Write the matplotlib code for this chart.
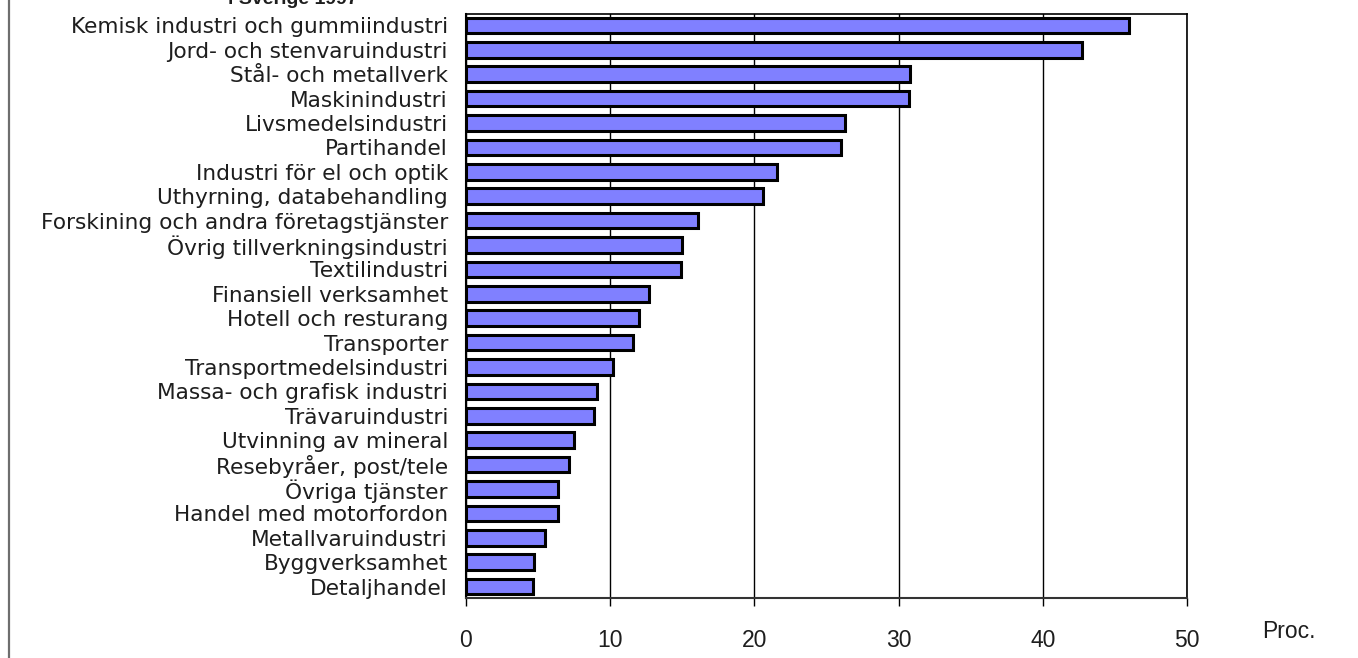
import matplotlib
matplotlib.use('Agg')
import matplotlib.pyplot as plt
from matplotlib.lines import Line2D

# data (top to bottom)
branscher = [
    "Kemisk industri och gummiindustri",
    "Jord- och stenvaruindustri",
    "Stål- och metallverk",
    "Maskinindustri",
    "Livsmedelsindustri",
    "Partihandel",
    "Industri för el och optik",
    "Uthyrning, databehandling",
    "Forskining och andra företagstjänster",
    "Övrig tillverkningsindustri",
    "Textilindustri",
    "Finansiell verksamhet",
    "Hotell och resturang",
    "Transporter",
    "Transportmedelsindustri",
    "Massa- och grafisk industri",
    "Trävaruindustri",
    "Utvinning av mineral",
    "Resebyråer, post/tele",
    "Övriga tjänster",
    "Handel med motorfordon",
    "Metallvaruindustri",
    "Byggverksamhet",
    "Detaljhandel",
]
andel = [46.0, 42.7, 30.8, 30.7, 26.3, 26.0, 21.6, 20.6, 16.1, 15.0, 14.9, 12.7,
         12.0, 11.6, 10.2, 9.1, 8.9, 7.5, 7.15, 6.4, 6.4, 5.5, 4.75, 4.65]
xticks = [0, 10, 20, 30, 40, 50]

TXT = '#1e1e1e'

fig = plt.figure(figsize=(13.58, 6.58), dpi=100)
ax = fig.add_axes([466 / 1358, 60 / 658, 721 / 1358, 584 / 658])

pos = list(range(len(branscher)))
ax.barh(pos, andel, height=0.64, color='#8080FF', edgecolor='black',
        linewidth=2.2, zorder=3)

ax.set_ylim(len(branscher) - 1 + 0.47, -0.47)
ax.set_xlim(0, 50)
ax.set_yticks(pos)
ax.set_yticklabels(branscher, family='DejaVu Sans', fontsize=15.6, color=TXT)
ax.set_xticks(xticks)
ax.set_xticklabels([str(t) for t in xticks], family='Liberation Sans',
                   fontsize=16.5, color=TXT)
ax.tick_params(axis='y', length=0, pad=13)
ax.tick_params(axis='x', length=6, width=1, pad=16, direction='out')

ax.grid(axis='x', color='black', linewidth=1, zorder=1)
for side in ['top', 'right']:
    ax.spines[side].set_color('black')
    ax.spines[side].set_linewidth(1.2)
ax.spines['left'].set_color('black')
ax.spines['left'].set_linewidth(1.5)
ax.spines['bottom'].set_color('#333333')
ax.spines['bottom'].set_linewidth(1.5)

fig.text(1262 / 1358, 1 - 632 / 658, "Proc.", family='Liberation Sans',
         fontsize=16.5, color=TXT, ha='left', va='center')

# title, cut off at the top edge as in the picture
fig.text(293 / 1358, 1 - 4 / 658, "i Sverige 1997", family='Liberation Sans',
         fontsize=14, fontweight='bold', color=TXT, ha='center', va='baseline')

# frame line on the left
fig.add_artist(Line2D([9 / 1358, 9 / 1358], [0, 1], color='#6e6e6e', linewidth=1.6))

fig.savefig('out.png', dpi=100, facecolor='white')
